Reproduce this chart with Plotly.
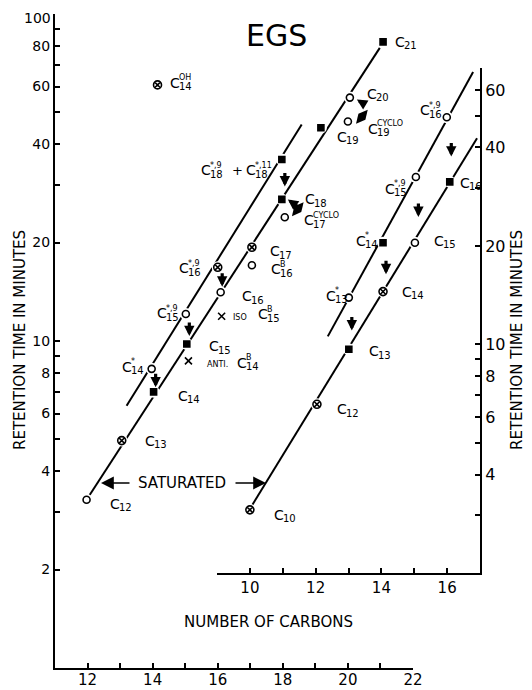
import math
import plotly.graph_objects as go

FONT = "DejaVu Sans"

# ---------------- data ----------------
# main panel: carbon number (x) vs retention time in minutes (y, log)
main_sat_names = ["12", "13", "14", "15", "16", "17", "18", "19", "20", "21"]
main_sat_x = [11.97, 13.05, 14.03, 15.05, 16.09, 17.05, 17.97, 19.17, 20.06, 21.08]
main_sat_y = [3.27, 4.96, 6.99, 9.79, 14.1, 19.35, 27.1, 44.9, 55.5, 82.2]
main_sat_kind = ["o", "xo", "s", "s", "o", "xo", "s", "s", "o", "s"]

main_uns_names = ["14", "15", "16", "18"]
main_uns_sup = ["*", "*,9", "*,9", "*,9"]
main_uns_x = [13.97, 15.02, 16.00, 17.97]
main_uns_y = [8.22, 12.09, 16.8, 35.9]
main_uns_kind = ["o", "o", "xo", "s"]
main_pairs = [(0, 2), (1, 3), (2, 4), (3, 6)]   # unsaturated -> saturated

other_names = ["C14 OH", "ISO C15 B", "ANTI C14 B", "C16 B", "C17 CYCLO", "C19 CYCLO"]
other_x = [14.15, 16.12, 15.10, 17.05, 18.06, 20.00]
other_y = [60.7, 11.9, 8.69, 17.05, 23.9, 46.9]
other_kind = ["xo", "x", "x", "o", "o", "o"]

blob_x = [18.46, 20.43]
blob_y = [25.3, 48.5]

main_sat_line_x = [11.97, 20.98]
main_sat_line_y = [3.27, 78.8]
main_uns_line_x = [13.20, 18.58]
main_uns_line_y = [6.34, 45.9]

# inset panel
inset_sat_names = ["10", "12", "13", "14", "15", "16"]
inset_sat_x = [10.00, 12.04, 13.01, 14.05, 15.02, 16.08]
inset_sat_y = [3.12, 6.56, 9.66, 14.5, 20.45, 31.4]
inset_sat_kind = ["xo", "xo", "s", "xo", "o", "s"]

inset_uns_names = ["13", "14", "15", "16"]
inset_uns_sup = ["*", "*", "*,9", "*,9"]
inset_uns_x = [13.01, 14.05, 15.05, 15.99]
inset_uns_y = [13.9, 20.45, 32.5, 49.5]
inset_uns_kind = ["o", "s", "o", "o"]
inset_pairs = [(0, 2), (1, 3), (2, 4), (3, 5)]

inset_sat_line_x = [10.05, 16.91]
inset_sat_line_y = [3.2, 42.7]
inset_uns_line_x = [12.37, 16.79]
inset_uns_line_y = [10.58, 68.1]

# ticks
main_x_ticks = list(range(12, 23))
main_x_text = [str(v) if v % 2 == 0 else "" for v in main_x_ticks]
main_y_ticks = [2, 3, 4, 5, 6, 7, 8, 9, 10, 20, 30, 40, 50, 60, 70, 80, 90, 100]
main_y_shown = [2, 4, 6, 8, 10, 20, 40, 60, 80]   # "100" is written separately below
main_y_top = 100
inset_x_ticks = list(range(9, 18))
inset_x_text = [str(v) if v in (10, 12, 14, 16) else "" for v in inset_x_ticks]
inset_y_ticks = [3, 4, 5, 6, 7, 8, 9, 10, 20, 30, 40, 50, 60, 70]
inset_y_shown = [4, 6, 8, 10, 20, 40, 60]

# ---------------- figure ----------------
lg = math.log10
fig = go.Figure()

SYM = {"o": ("circle-open", 7), "s": ("square", 6),
       "xo": ("circle-x-open", 8), "x": ("x-thin-open", 7)}


def add_line(xs, ys, xa, ya):
    fig.add_trace(go.Scatter(x=xs, y=ys, mode="lines", xaxis=xa, yaxis=ya,
                             line=dict(color="black", width=2), hoverinfo="skip"))


def add_gaps(xs, ys, xa, ya):
    fig.add_trace(go.Scatter(x=xs, y=ys, mode="markers", xaxis=xa, yaxis=ya,
                             marker=dict(color="white", size=12), hoverinfo="skip"))


def add_points(xs, ys, kinds, xa, ya):
    for k, (sym, size) in SYM.items():
        px = [x for x, kk in zip(xs, kinds) if kk == k]
        py = [y for y, kk in zip(ys, kinds) if kk == k]
        if not px:
            continue
        fig.add_trace(go.Scatter(
            x=px, y=py, mode="markers", xaxis=xa, yaxis=ya,
            marker=dict(symbol=sym, size=size, color="black",
                        line=dict(color="black", width=1.6))))


add_line(main_sat_line_x, main_sat_line_y, "x", "y")
add_line(main_uns_line_x, main_uns_line_y, "x", "y")
add_line(inset_sat_line_x, inset_sat_line_y, "x2", "y2")
add_line(inset_uns_line_x, inset_uns_line_y, "x2", "y2")
add_gaps(main_sat_x, main_sat_y, "x", "y")
add_gaps(main_uns_x, main_uns_y, "x", "y")
add_gaps(inset_sat_x, inset_sat_y, "x2", "y2")
add_gaps(inset_uns_x, inset_uns_y, "x2", "y2")
add_points(main_sat_x, main_sat_y, main_sat_kind, "x", "y")
add_points(main_uns_x, main_uns_y, main_uns_kind, "x", "y")
add_points(other_x, other_y, other_kind, "x", "y")
add_points(inset_sat_x, inset_sat_y, inset_sat_kind, "x2", "y2")
add_points(inset_uns_x, inset_uns_y, inset_uns_kind, "x2", "y2")
fig.add_trace(go.Scatter(x=blob_x, y=blob_y, mode="markers", xaxis="x", yaxis="y",
                         marker=dict(symbol="diamond-tall", size=13, angle=40,
                                     color="black")))


# ---------------- labels ----------------
def txt(x, y, xa, ya, s, dx, dy, size):
    fig.add_annotation(x=x, y=lg(y), xref=xa, yref=ya, text=s, showarrow=False,
                       xanchor="left", yanchor="middle", xshift=dx, yshift=dy,
                       font=dict(size=size, family=FONT, color="black"))


def chem(x, y, xa, ya, dx, dy, sub, sup=None):
    txt(x, y, xa, ya, "C", dx, dy, 14)
    txt(x, y, xa, ya, sub, dx + 9, dy - 4, 10)
    if sup:
        txt(x, y, xa, ya, sup, dx + 9, dy + 5, 8)


sat_off = [(21, -4), (21, 0), (22, -4), (20, -2), (19, -4), (16, -4),
           (21, 0), (14, -9), (15, 4), (10, 0)]
for i, (dx, dy) in enumerate(sat_off):
    chem(main_sat_x[i], main_sat_y[i], "x", "y", dx, dy, main_sat_names[i])

uns_off = [(-32, 2), (-31, 1), (-41, -1), (-83, -11)]
for i, (dx, dy) in enumerate(uns_off):
    chem(main_uns_x[i], main_uns_y[i], "x", "y", dx, dy, main_uns_names[i], main_uns_sup[i])
txt(main_uns_x[3], main_uns_y[3], "x", "y", "+", -52, -11, 13)
chem(main_uns_x[3], main_uns_y[3], "x", "y", -38, -11, "18", "*,11")

chem(other_x[0], other_y[0], "x", "y", 10, 2, "14", "OH")
txt(other_x[1], other_y[1], "x", "y", "ISO", 9, -1, 8)
chem(other_x[1], other_y[1], "x", "y", 34, 2, "15", "B")
txt(other_x[2], other_y[2], "x", "y", "ANTI.", 17, -4, 8)
chem(other_x[2], other_y[2], "x", "y", 47, -2, "14", "B")
chem(other_x[3], other_y[3], "x", "y", 17, -4, "16", "B")
chem(other_x[4], other_y[4], "x", "y", 17, -3, "17", "CYCLO")
chem(other_x[5], other_y[5], "x", "y", 18, -7, "19", "CYCLO")

isat_off = [(22, -5), (18, -5), (18, -2), (17, 0), (17, 2), (8, -1)]
for i, (dx, dy) in enumerate(isat_off):
    chem(inset_sat_x[i], inset_sat_y[i], "x2", "y2", dx, dy, inset_sat_names[i])
iuns_off = [(-25, 2), (-29, 2), (-33, -12), (-29, 7)]
for i, (dx, dy) in enumerate(iuns_off):
    chem(inset_uns_x[i], inset_uns_y[i], "x2", "y2", dx, dy, inset_uns_names[i], inset_uns_sup[i])

# top label of the left axis, kept just inside the drawing area
fig.add_annotation(x=0, y=lg(main_y_top), xref="paper", yref="y", text=str(main_y_top),
                   showarrow=False, xanchor="right", yanchor="top", xshift=-3, yshift=5,
                   borderpad=0, font=dict(size=14, family=FONT, color="black"))


# ---------------- arrows ----------------
def shift_arrow(x0, y0, x1, y1, xa, ya):
    fig.add_annotation(x=(x0 + x1) / 2, y=(lg(y0) + lg(y1)) / 2, xref=xa, yref=ya,
                       ax=0, ay=-15, text="", showarrow=True, arrowhead=2,
                       arrowsize=0.65, arrowwidth=3.2, arrowcolor="black",
                       xshift=3, yshift=-7, standoff=0, startstandoff=0)


for u, s in main_pairs:
    shift_arrow(main_uns_x[u], main_uns_y[u], main_sat_x[s], main_sat_y[s], "x", "y")
for u, s in inset_pairs:
    shift_arrow(inset_uns_x[u], inset_uns_y[u], inset_sat_x[s], inset_sat_y[s], "x2", "y2")

for (ti, xs, ys, ax, ay) in [(6, 6, 0, 11, 8), (8, 7, -2, 10, 6)]:
    fig.add_annotation(x=main_sat_x[ti], y=lg(main_sat_y[ti]), xref="x", yref="y",
                       ax=ax, ay=ay, text="", showarrow=True, arrowhead=2,
                       arrowsize=0.65, arrowwidth=3.2, arrowcolor="black",
                       xshift=xs, yshift=ys, standoff=0, startstandoff=0)


# ---------------- paper-positioned text ----------------
# page is drawn with an 8px body margin: plot area spans page px 55..480, 14..668
def px2paper(px, py):
    return (px - 55) / 425.0, (668 - py) / 654.0


def ptext(px, py, s, size, angle=0):
    x, y = px2paper(px, py)
    fig.add_annotation(x=x, y=y, xref="paper", yref="paper", text=s, showarrow=False,
                       textangle=angle, xanchor="center", yanchor="middle",
                       font=dict(size=size, family=FONT, color="black"))


ptext(276, 36, "EGS", 30)
ptext(20, 340, "RETENTION TIME IN MINUTES", 15, -90)
ptext(517, 340, "RETENTION TIME IN MINUTES", 15, -90)
ptext(268, 622, "NUMBER OF CARBONS", 15)
ptext(182, 483, "SATURATED", 15)
for hx, ax in [(101, 30), (266, -32)]:
    x, y = px2paper(hx, 483)
    fig.add_annotation(x=x, y=y, xref="paper", yref="paper", ax=ax, ay=0, text="",
                       showarrow=True, arrowhead=2, arrowsize=1.6, arrowwidth=1.6,
                       arrowcolor="black", standoff=0, startstandoff=0)

# ---------------- axes ----------------
common = dict(showline=True, linecolor="black", linewidth=2, ticks="inside",
              ticklen=5, tickwidth=1.5, tickcolor="black", showgrid=False,
              zeroline=False, automargin=False, ticklabeloverflow="allow")

fig.update_layout(
    template="none",
    width=524, height=682,
    margin=dict(l=47, r=52, t=6, b=22),
    paper_bgcolor="white", plot_bgcolor="rgba(0,0,0,0)",
    showlegend=False,
    font=dict(family=FONT, color="black"),
    xaxis=dict(domain=[0, 358 / 425], range=[11, 22], anchor="y",
               tickmode="array", tickvals=main_x_ticks, ticktext=main_x_text,
               tickfont=dict(size=15, family=FONT, color="black"),
               ticklabelstandoff=-3, **common),
    yaxis=dict(domain=[0, 1], type="log", range=[0, 2], anchor="x",
               tickmode="array", tickvals=main_y_ticks,
               ticktext=[str(v) if v in main_y_shown else "" for v in main_y_ticks],
               tickfont=dict(size=14, family=FONT, color="black"), **common),
    xaxis2=dict(domain=[162 / 425, 1], range=[9, 17], anchor="y2",
                tickmode="array", tickvals=inset_x_ticks, ticktext=inset_x_text,
                tickfont=dict(size=15, family=FONT, color="black"), **common),
    yaxis2=dict(domain=[95 / 654, 600 / 654], type="log", range=[lg(2.0), lg(70)],
                anchor="x2", side="right", tickmode="array", tickvals=inset_y_ticks,
                ticktext=[str(v) if v in inset_y_shown else "" for v in inset_y_ticks],
                tickfont=dict(size=16, family=FONT, color="black"), **common),
)

fig.write_html("out.html")
